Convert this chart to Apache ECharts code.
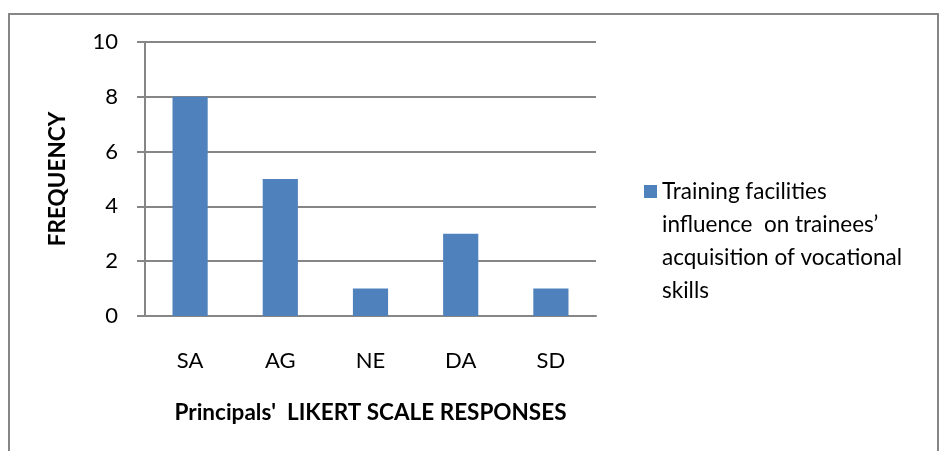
<!DOCTYPE html>
<html><head><meta charset="utf-8">
<script src="https://cdn.jsdelivr.net/npm/echarts@6/dist/echarts.min.js"></script>
<style>html,body{margin:0;padding:0;background:#fff}#c{width:939px;height:451px}</style>
</head><body><div id="c"></div>
<script>
const categories = ['SA', 'AG', 'NE', 'DA', 'SD'];
const frequency = [8, 5, 1, 3, 1];
const seriesName = 'Training facilities\ninfluence  on trainees\u2019\nacquisition of vocational\nskills';
const yTicks = {min: 0, max: 10, interval: 2};
const xTitle = "Principals'  LIKERT SCALE RESPONSES";
const yTitle = 'FREQUENCY';

const FONT = 'Lato';
const chart = echarts.init(document.getElementById('c'), null, {renderer: 'canvas'});
chart.setOption({
  animation: false,
  backgroundColor: '#fff',
  graphic: [{
    type: 'rect', shape: {x: 9, y: 14, width: 929, height: 500},
    style: {fill: 'none', stroke: '#868686', lineWidth: 2}, silent: true
  }],
  grid: {left: 145, right: 343, top: 42, bottom: 135},
  legend: {
    left: 639, top: 71, orient: 'vertical',
    itemWidth: 13, itemHeight: 13, itemGap: 8,
    icon: 'rect',
    formatter: name => '\n\n\n' + name,
    textStyle: {fontFamily: FONT, fontSize: 22.5, color: '#000', lineHeight: 33},
    data: [seriesName]
  },
  xAxis: {
    type: 'category', data: categories,
    axisLine: {lineStyle: {color: '#868686', width: 2}},
    axisTick: {show: false},
    axisLabel: {fontFamily: FONT, fontSize: 22, color: '#000', margin: 34},
    name: xTitle, nameLocation: 'middle', nameGap: 85,
    nameTextStyle: {fontFamily: FONT, fontSize: 22.5, fontWeight: 'bold', color: '#000'}
  },
  yAxis: {
    type: 'value', min: yTicks.min, max: yTicks.max, interval: yTicks.interval,
    axisLine: {show: true, lineStyle: {color: '#868686', width: 2}},
    axisTick: {show: true, length: 8, lineStyle: {color: '#868686', width: 2}},
    splitLine: {lineStyle: {color: '#868686', width: 2}},
    axisLabel: {fontFamily: FONT, fontSize: 22, color: '#000', margin: 27},
    name: yTitle, nameLocation: 'middle', nameGap: 76, nameRotate: 90,
    nameTextStyle: {fontFamily: FONT, fontSize: 22.5, fontWeight: 'bold', color: '#000'}
  },
  series: [{
    name: seriesName, type: 'bar', data: frequency, barWidth: '39%',
    itemStyle: {color: '#4F81BD'}
  }]
});
</script></body></html>
